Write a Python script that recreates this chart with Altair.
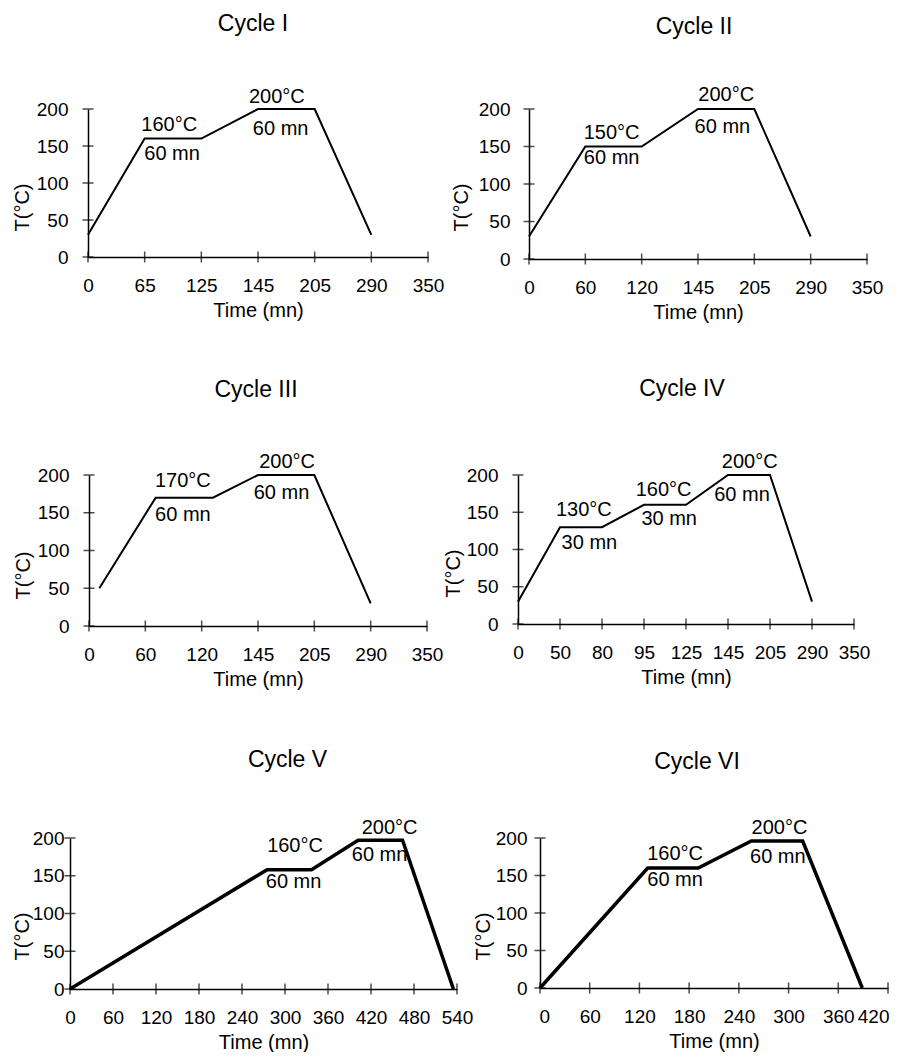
import altair as alt
import pandas as pd

FONT = "Liberation Sans"

# ---------------- data ----------------
cycle_names = ["Cycle I", "Cycle II", "Cycle III", "Cycle IV", "Cycle V", "Cycle VI"]

# temperature profiles (time in minutes, temperature in °C)
c1_time = [0, 65, 125, 145, 205, 290]
c1_temp = [30, 160, 160, 200, 200, 30]
c2_time = [0, 60, 120, 145, 205, 290]
c2_temp = [30, 150, 150, 200, 200, 30]
c3_time = [11, 71, 125, 145, 205, 290]
c3_temp = [50, 170, 170, 200, 200, 30]
c4_time = [0, 50, 80, 95, 125, 145, 205, 290]
c4_temp = [30, 130, 130, 160, 160, 200, 200, 30]
c5_time = [0, 275, 337, 402, 464, 535]
c5_temp = [0, 158, 158, 197, 197, 0]
c6_time = [0, 130, 191, 255, 317, 389]
c6_temp = [0, 160, 160, 196, 196, 0]

# x-axis tick labels (equally spaced on the page)
c1_ticks = [0, 65, 125, 145, 205, 290, 350]
c2_ticks = [0, 60, 120, 145, 205, 290, 350]
c3_ticks = [0, 60, 120, 145, 205, 290, 350]
c4_ticks = [0, 50, 80, 95, 125, 145, 205, 290, 350]
c5_ticks = [0, 60, 120, 180, 240, 300, 360, 420, 480, 540]
c6_ticks = [0, 60, 120, 180, 240, 300, 360, 420]
y_ticks = [0, 50, 100, 150, 200]

# annotations (text, time, temperature at text centre)
c1_ann_text = ["160°C", "60 mn", "200°C", "60 mn"]
c1_ann_time = [91, 94, 165, 169]
c1_ann_temp = [178, 139, 216, 173]
c2_ann_text = ["150°C", "60 mn", "200°C", "60 mn"]
c2_ann_time = [88, 88, 175, 171]
c2_ann_temp = [168, 135, 219, 176]
c3_ann_text = ["170°C", "60 mn", "200°C", "60 mn"]
c3_ann_time = [100, 100, 176, 170]
c3_ann_temp = [192, 147, 217, 176]
c4_ann_text = ["130°C", "30 mn", "160°C", "30 mn", "200°C", "60 mn"]
c4_ann_time = [67, 71, 109, 113, 176, 165]
c4_ann_temp = [153, 109, 180, 141, 217, 173]
c5_ann_text = ["160°C", "60 mn", "200°C", "60 mn"]
c5_ann_time = [314, 312, 446, 432]
c5_ann_temp = [189, 142, 213, 177]
c6_ann_text = ["160°C", "60 mn", "200°C", "60 mn"]
c6_ann_time = [163, 163, 289, 287]
c6_ann_temp = [179, 144, 213, 175]

FS = 20       # axis title / annotation font size
LFS = 19      # tick label font size
TFS = 23      # panel title font size


def panel(title, time, temp, ticks, ann_text, ann_time, ann_temp,
          width, height, line_w, title_offset, title_dx,
          ylab_pad, ytitle_pad, ytitle_y, xlab_pad, xtitle_pad, shift=0,
          flush=False):
    n = len(ticks)
    xrange_px = [shift + i * width / (n - 1) for i in range(n)]
    xscale = alt.Scale(domain=ticks, range=xrange_px, nice=False, zero=False,
                       padding=0)
    yscale = alt.Scale(domain=[0, 200], nice=False, padding=0)

    xaxis = alt.Axis(values=ticks, ticks=False, grid=False, domainColor="black",
                     domainWidth=1.5, labelFont=FONT, labelFontSize=LFS,
                     labelColor="black", labelPadding=xlab_pad, labelFlush=flush,
                     labelFlushOffset=1, labelOverlap=False, title="Time (mn)",
                     titleFont=FONT, titleFontSize=FS, titleFontWeight="normal",
                     titleColor="black", titlePadding=xtitle_pad,
                     titleX=shift + width / 2)
    yaxis = alt.Axis(values=y_ticks, ticks=False, grid=False, domainColor="black",
                     domainWidth=1.5, labelFont=FONT, labelFontSize=LFS,
                     labelColor="black", labelPadding=ylab_pad, labelFlush=False,
                     labelOverlap=False, title="T(°C)", titleFont=FONT,
                     titleFontSize=FS, titleFontWeight="normal", titleColor="black",
                     titlePadding=ytitle_pad, titleY=ytitle_y, offset=-shift)

    X = alt.X("time:Q", scale=xscale, axis=xaxis)
    Y = alt.Y("temp:Q", scale=yscale, axis=yaxis)

    prof = pd.DataFrame({"time": time, "temp": temp})
    ann = pd.DataFrame({"time": ann_time, "temp": ann_temp, "label": ann_text})
    xt = pd.DataFrame({"time": ticks, "temp": [0] * n})
    yt = pd.DataFrame({"time": [ticks[0]] * len(y_ticks), "temp": y_ticks})

    line = alt.Chart(prof).mark_line(color="black", strokeWidth=line_w,
                                     clip=False, strokeJoin="miter").encode(
        x=X, y=Y, order=alt.Order("time:Q"),
    )
    xtick = alt.Chart(xt).mark_tick(orient="vertical", size=11, thickness=1.5,
                                    color="black").encode(x=X, y=Y)
    ytick = alt.Chart(yt).mark_tick(orient="horizontal", size=11, thickness=1.5,
                                    color="black").encode(x=X, y=Y)
    text = alt.Chart(ann).mark_text(font=FONT, fontSize=FS, color="black",
                                    align="center", baseline="middle").encode(
        x=X, y=Y, text="label:N")

    return alt.layer(line, xtick, ytick, text).properties(
        width=width + shift, height=height,
        title=alt.TitleParams(title, font=FONT, fontSize=TFS, fontWeight="normal",
                              color="black", anchor="middle", frame="group",
                              offset=title_offset, dx=title_dx + shift / 2),
    )


p1 = panel(cycle_names[0], c1_time, c1_temp, c1_ticks, c1_ann_text, c1_ann_time, c1_ann_temp,
           340, 148, 2, 51, -5, 20, 4, 98, 19, 5, shift=18)
p2 = panel(cycle_names[1], c2_time, c2_temp, c2_ticks, c2_ann_text, c2_ann_time, c2_ann_temp,
           338, 150, 2, 46, -4, 19, 7, 98, 19, 5)
p3 = panel(cycle_names[2], c3_time, c3_temp, c3_ticks, c3_ann_text, c3_ann_time, c3_ann_temp,
           338, 151, 2, 50, -2, 20, 4, 100, 19, 5, shift=19)
p4 = panel(cycle_names[3], c4_time, c4_temp, c4_ticks, c4_ann_text, c4_ann_time, c4_ann_temp,
           336, 149, 2, 51, -4, 20, 3, 98, 19, 5)
p5 = panel(cycle_names[4], c5_time, c5_temp, c5_ticks, c5_ann_text, c5_ann_time, c5_ann_temp,
           387, 151, 3.5, 46, 24, 6, 0, 98, 19, 5)
p6 = panel(cycle_names[5], c6_time, c6_temp, c6_ticks, c6_ann_text, c6_ann_time, c6_ann_temp,
           348, 150, 3.5, 44, -17, 13, 2, 98, 19, 5, flush=True)

chart = alt.vconcat(
    alt.vconcat(
        alt.hconcat(p1, p2, spacing=7),
        alt.hconcat(p3, p4, spacing=0),
        spacing=56,
    ),
    alt.hconcat(p5, p6, spacing=0),
    spacing=60,
).configure_view(stroke=None).configure_axis(labelOverlap=False).properties(
    padding={"left": 4, "top": 5, "right": 0, "bottom": 0},
    background="white",
)

chart.save("out.html", embed_options={"renderer": "svg", "actions": False})
